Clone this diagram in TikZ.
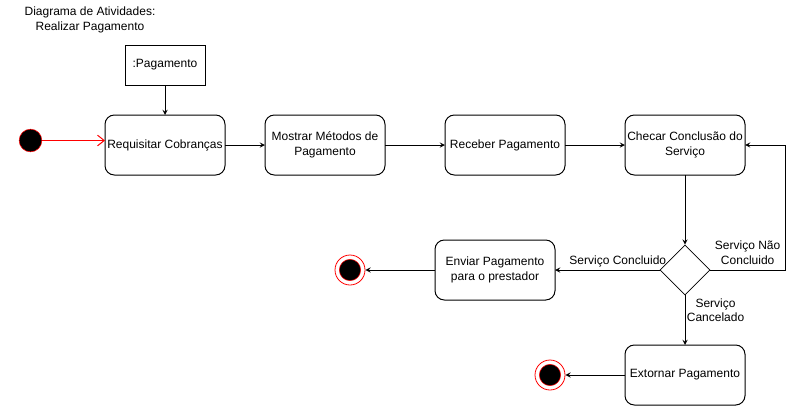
\documentclass[tikz,border=0pt]{standalone}
\usepackage{fontspec}
\setmainfont{Liberation Sans}
\usepackage{tikz}
\usetikzlibrary{shapes.geometric, arrows, arrows.meta, positioning}
\tikzstyle{arrow} = [line width=0.75pt,->,>=stealth]
\tikzstyle{startarrow} = [line width=0.75pt, draw=red, -{Straight Barb[length=5pt,width=8pt]}]
\tikzstyle{activity} = [rectangle, rounded corners=7pt, minimum width=90pt, minimum height=45pt, inner xsep=1pt, outer sep=0pt, text centered, align=center, draw=black, line width=0.75pt]
\tikzstyle{object} = [rectangle, minimum width=60pt, minimum height=30pt, text centered, draw=black, line width=0.75pt]
\tikzstyle{decision} = [diamond, aspect=1, minimum width=37.5pt, minimum height=37.5pt, inner sep=0pt, draw=black, line width=0.5pt]
\tikzstyle{initial} = [circle, fill=black, draw=red, minimum size=17pt, inner sep=0pt]
\tikzset{
	final/.style = {circle, draw=red, fill=white, minimum size=22.5pt, inner sep=0pt, line width=0.6pt,
		path picture={\filldraw[black, draw=red, line width=0.4pt]
			(path picture bounding box.center) circle (8pt);
		},% end of path picture
	}
}

\begin{document}
\begin{tikzpicture}[x=0.75pt, y=-0.75pt, node distance=45pt, font=\fontsize{9}{11}\selectfont]
\useasboundingbox (0,0) rectangle (810,411);
%----------------------------------------------------------------------------
% Placement of activity nodes
\node (title) [align=center] at (90,20) {Diagrama de Atividades:\\Realizar Pagamento};

\node (startNode) [initial] at (30.5,140.5) {};
\node (reqCharges) [activity] at (165,145) {Requisitar Cobranças};
\node (payObject) [object] at (165,65) {:Pagamento};

\node (showMethods) [activity, right = 30pt of reqCharges] {Mostrar Métodos de\\Pagamento};
\node (receivePay) [activity, right = of showMethods] {Receber Pagamento};
\node (checkService) [activity, right = of receivePay] {Checar Conclusão do\\Serviço};

% service decision block
\node (serviceDone) [decision] at (685,270) {};
\node (sendPay) [activity] at (495,270) {Enviar Pagamento\\para o prestador};
\node (refundPay) [activity] at (685,375) {Extornar Pagamento};

\node (endSend) [final] at (350,270) {};
\node (endRefund) [final] at (550,375) {};

%----------------------------------------------------------------------------
% Drawing of Lines of main chart
\draw [startarrow] (startNode.east) -- (startNode -| reqCharges.west);
\draw [arrow] (payObject) -- (reqCharges);
\draw [arrow] (reqCharges) -- (showMethods);
\draw [arrow] (showMethods) -- (receivePay);
\draw [arrow] (receivePay) -- (checkService);
\draw [arrow] (checkService) -- (serviceDone);

\draw [arrow] (sendPay) -- (endSend);
\draw [arrow] (refundPay) -- (endRefund);

%----------------------------------------------------------------------------
% Draw Decision Lines
\draw [arrow] (serviceDone) -- node[anchor=south, pos=0.4, inner sep=1.5pt] {Serviço Concluido} (sendPay);
\draw [arrow] (serviceDone.east) -| node[anchor=south, pos=0.25, align=center, inner sep=4pt] {Serviço Não\\Concluido} ([xshift=30pt]checkService.east) -- (checkService.east);
\draw [arrow] (serviceDone) -- node[anchor=west, pos=0.3, align=center, inner sep=1pt] {Serviço\\Cancelado} (refundPay);

\end{tikzpicture}
\end{document}
